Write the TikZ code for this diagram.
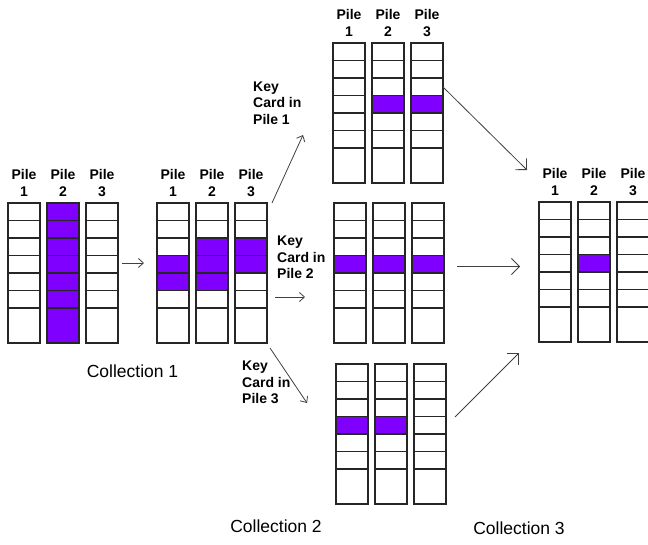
\documentclass[tikz,border=0pt]{standalone}
\usepackage{fontspec}
\setmainfont{Liberation Sans}
\usetikzlibrary{arrows.meta,positioning,calc,backgrounds}

\definecolor{keyviolet}{RGB}{127,0,255}

% one pile of cards: name, placement, rows holding the key card (0 = none)
\newcommand{\cardpile}[3]{%
  \node[pilebox, #2] (#1) {};
  \foreach \k in {1,...,6}
    \draw[cardline] ($(#1.north west)+(0,\k*17.5)$) -- ($(#1.north east)+(0,\k*17.5)$);
  \begin{scope}[on background layer]
    \foreach \r in {#3}{%
      \ifnum\r>0
        \pgfmathsetmacro{\rb}{ifthenelse(\r==7,8,\r)}%
        \fill[keyviolet] ($(#1.north west)+(0,{(\r-1)*17.5})$) rectangle ($(#1.north east)+(0,{\rb*17.5})$);
      \fi}
  \end{scope}}

\begin{document}
\begin{tikzpicture}[
    x=1pt, y=-1pt,
    every node/.style={text=black},
    pilebox/.style={draw=black!85, line width=1.2pt, minimum width=32pt, minimum height=140pt, inner sep=0pt, outer sep=0pt},
    cardline/.style={draw=black!85, line width=1.2pt},
    pilelbl/.style={font=\fontsize{14}{17.5}\selectfont\bfseries, align=center, inner sep=0pt},
    keylbl/.style={font=\fontsize{14}{16.5}\selectfont\bfseries, align=left, inner sep=0pt, anchor=west},
    colllbl/.style={font=\fontsize{17.5}{20}\selectfont, inner sep=0pt},
    arr/.style={-{Straight Barb[length=5pt,width=9pt]}, line width=0.8pt, black!75},
    bigarr/.style={-{Straight Barb[length=8pt,width=16pt]}, line width=0.8pt, black!75}
  ]
    \useasboundingbox (0,0) rectangle (648,545);

    % collection 1
    \cardpile{c1p1}{at={(8,203)}, anchor=north west}{0}
    \cardpile{c1p2}{right=7pt of c1p1}{1,...,7}
    \cardpile{c1p3}{right=7pt of c1p2}{0}

    % collection 2
    \cardpile{c2p1}{at={(157,203)}, anchor=north west}{4,5}
    \cardpile{c2p2}{right=7pt of c2p1}{3,4,5}
    \cardpile{c2p3}{right=7pt of c2p2}{3,4}

    % three ways to pick up the piles
    \cardpile{tp1}{at={(333,43)}, anchor=north west}{0}
    \cardpile{tp2}{right=7pt of tp1}{4}
    \cardpile{tp3}{right=7pt of tp2}{4}

    \cardpile{mp1}{at={(334,203)}, anchor=north west}{4}
    \cardpile{mp2}{right=7pt of mp1}{4}
    \cardpile{mp3}{right=7pt of mp2}{4}

    \cardpile{bp1}{at={(336,364)}, anchor=north west}{4}
    \cardpile{bp2}{right=7pt of bp1}{4}
    \cardpile{bp3}{right=7pt of bp2}{0}

    % collection 3
    \cardpile{c3p1}{at={(539,202)}, anchor=north west}{0}
    \cardpile{c3p2}{right=7pt of c3p1}{4}
    \cardpile{c3p3}{right=7pt of c3p2}{0}

    % pile headings
    \foreach \g in {c1,c2,t,c3}
      \foreach \i in {1,2,3}
        \node[pilelbl, above=6pt of \g p\i] (\g l\i) {Pile\\\i};

    \node[keylbl] (key1) at (253,103) {Key\\Card in\\Pile 1};
    \node[keylbl] (key2) at (277,257.5) {Key\\Card in\\Pile 2};
    \node[keylbl] (key3) at (242,382.5) {Key\\Card in\\Pile 3};

    \node[colllbl] (coll1) at (132.5,371.5) {Collection 1};
    \node[colllbl] (coll2) at (276,526.5) {Collection 2};
    \node[colllbl] (coll3) at (519,528) {Collection 3};

    % arrow ends
    \coordinate (c1out) at (122,263);   \coordinate (c2in) at (144,263);
    \coordinate (k1out) at (272,203);   \coordinate (k1in) at (303,135);
    \coordinate (k2out) at (275,297);   \coordinate (k2in) at (305,297);
    \coordinate (k3out) at (270,348);   \coordinate (k3in) at (307,403);
    \coordinate (tout) at (443,87);     \coordinate (tin) at (527,170);
    \coordinate (mout) at (457,266.5);  \coordinate (min) at (520,266.5);
    \coordinate (bout) at (455,417);    \coordinate (bin) at (519,353);

    \draw[arr] (c1out) -- (c2in);
    \draw[arr] (k1out) -- (k1in);
    \draw[arr] (k2out) -- (k2in);
    \draw[arr] (k3out) -- (k3in);
    \draw[bigarr] (tout) -- (tin);
    \draw[bigarr] (mout) -- (min);
    \draw[bigarr] (bout) -- (bin);
  \end{tikzpicture}
\end{document}
